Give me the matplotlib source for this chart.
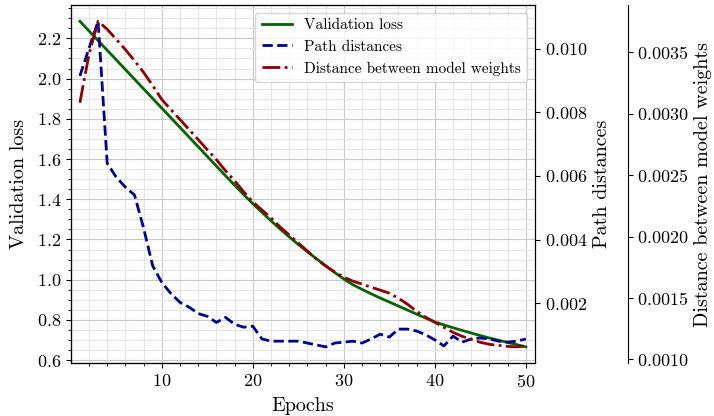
import numpy as np
import matplotlib
matplotlib.use('Agg')
import matplotlib.pyplot as plt

plt.rcParams['font.family'] = 'serif'
plt.rcParams['font.serif'] = ['cmr10']
plt.rcParams['mathtext.fontset'] = 'cm'
plt.rcParams['axes.formatter.use_mathtext'] = True
plt.rcParams['axes.unicode_minus'] = False

epochs = list(range(1, 51))

val_loss = [2.285, 2.237, 2.189, 2.141, 2.093, 2.045, 1.997, 1.949, 1.901, 1.853,
            1.805, 1.757, 1.709, 1.661, 1.613, 1.565, 1.517, 1.470, 1.423, 1.378,
            1.335, 1.293, 1.252, 1.213, 1.175, 1.139, 1.104, 1.070, 1.036, 1.003,
            0.975, 0.952, 0.930, 0.909, 0.889, 0.869, 0.849, 0.829, 0.809, 0.790,
            0.775, 0.761, 0.748, 0.735, 0.722, 0.710, 0.699, 0.688, 0.677, 0.666]

path_dist = [0.00915, 0.01002, 0.01087, 0.00640, 0.00596, 0.00565, 0.00540, 0.00436, 0.00317, 0.00265,
             0.00230, 0.00202, 0.00187, 0.00167, 0.00158, 0.00139, 0.00155, 0.00133, 0.00124, 0.00127,
             0.00087, 0.00080, 0.00080, 0.00080, 0.00080, 0.00074, 0.00068, 0.00062, 0.00074, 0.00077,
             0.00080, 0.00074, 0.00087, 0.00102, 0.00093, 0.00118, 0.00118, 0.00112, 0.00100, 0.00084,
             0.00065, 0.00096, 0.00077, 0.00087, 0.00090, 0.00087, 0.00080, 0.00077, 0.00080, 0.00087]

weight_dist = [0.003090, 0.003484, 0.003753, 0.003688, 0.003606, 0.003522, 0.003432, 0.003337, 0.003230, 0.003116,
               0.003034, 0.002953, 0.002871, 0.002789, 0.002707, 0.002626, 0.002536, 0.002454, 0.002364, 0.002283,
               0.002217, 0.002152, 0.002078, 0.002013, 0.001948, 0.001882, 0.001817, 0.001760, 0.001711, 0.001670,
               0.001637, 0.001613, 0.001588, 0.001564, 0.001539, 0.001498, 0.001449, 0.001392, 0.001343, 0.001302,
               0.001261, 0.001220, 0.001188, 0.001163, 0.001139, 0.001123, 0.001114, 0.001106, 0.001102, 0.001110]

fig, ax1 = plt.subplots(figsize=(7.14, 4.16), dpi=100)
fig.subplots_adjust(left=0.0994, right=0.749, top=0.988, bottom=0.127)

ax2 = ax1.twinx()
ax3 = ax1.twinx()
ax3.spines['right'].set_position(('axes', 1.2))

l1, = ax1.plot(epochs, val_loss, color='darkgreen', lw=2, label='Validation loss')
l2, = ax2.plot(epochs, path_dist, color='darkblue', lw=2, ls='--', label='Path distances')
l3, = ax3.plot(epochs, weight_dist, color='darkred', lw=2, ls='-.', label='Distance between model weights')

ax1.margins(x=0.02)
ax1.set_xlabel('Epochs', fontsize=14.5, labelpad=5)
ax1.set_ylabel('Validation loss', fontsize=14.5, labelpad=6)
ax2.set_ylabel('Path distances', fontsize=14.5)
ax3.set_ylabel('Distance between model weights', fontsize=14.5)

ax1.minorticks_on()
ax1.grid(which='major', color='#c8c8c8', lw=0.8)
ax1.grid(which='minor', color='#e6e6e6', lw=0.8)
ax1.set_axisbelow(True)

for a in (ax1, ax2, ax3):
    a.tick_params(labelsize=13)

ax3.legend(handles=[l1, l2, l3], loc='upper right', fontsize=11)

plt.savefig('out.png', dpi=100)
